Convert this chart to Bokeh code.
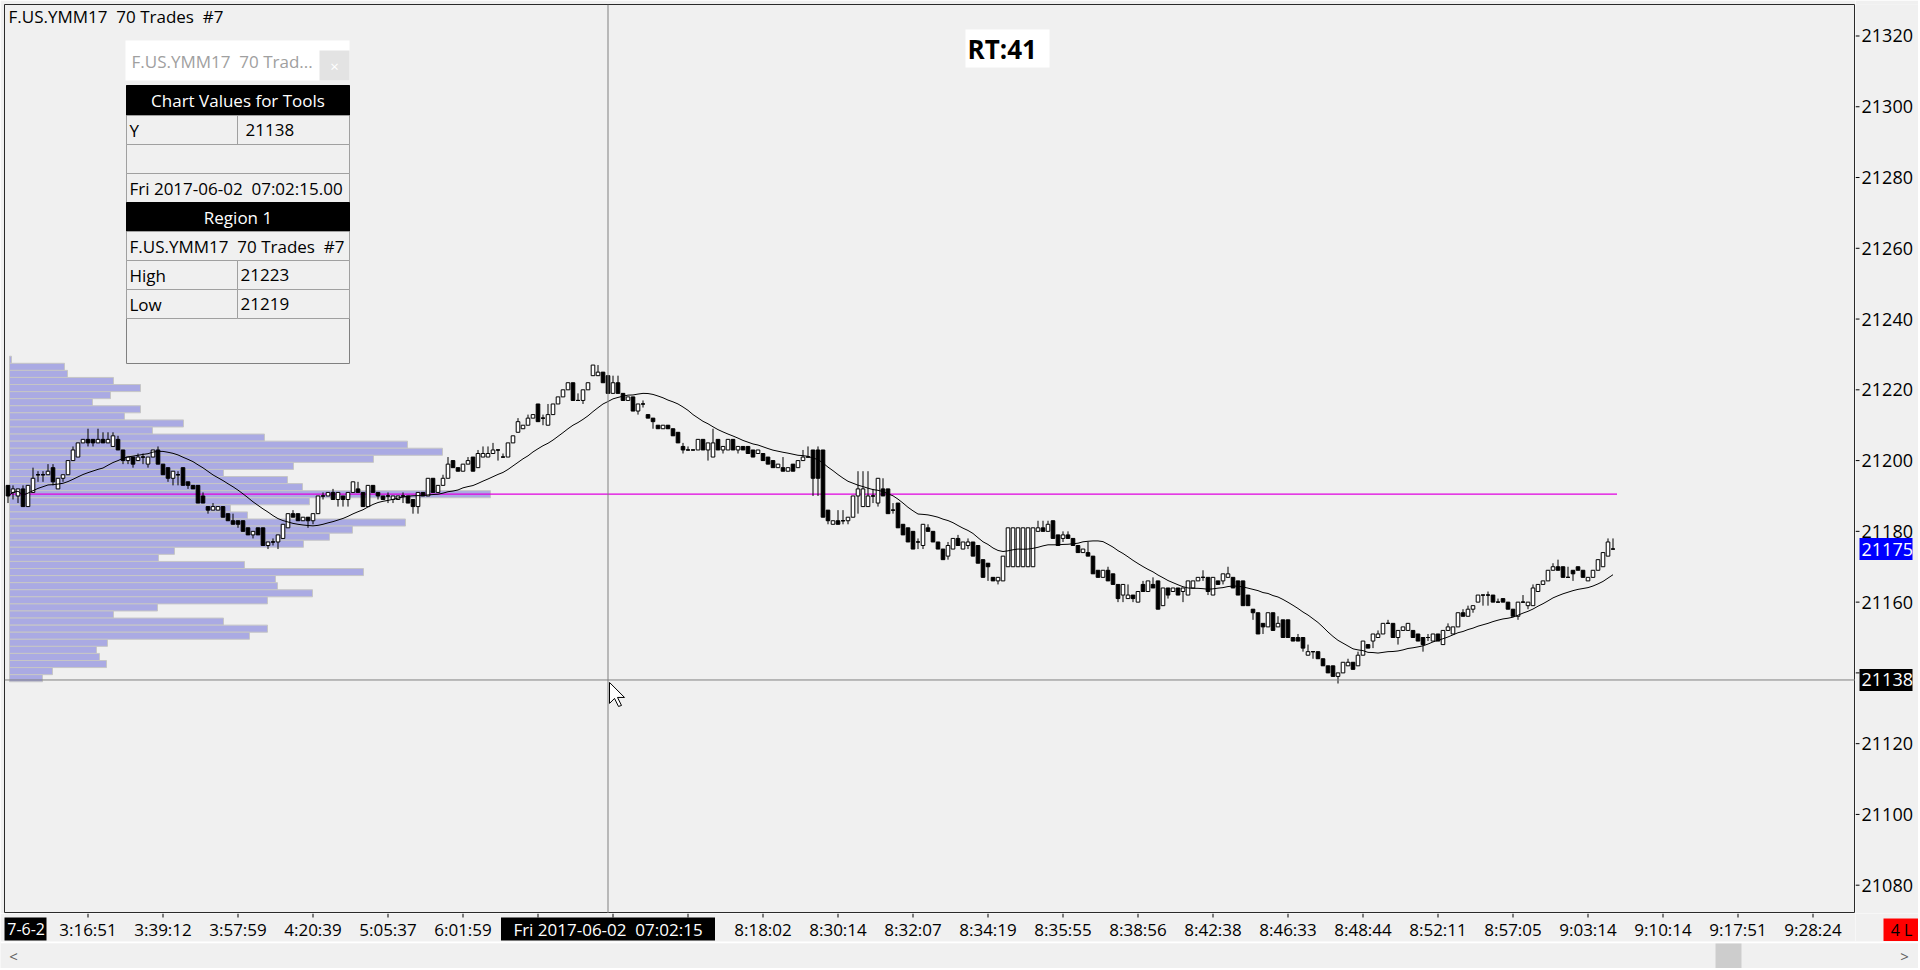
import pandas as pd
from bokeh.plotting import figure
from bokeh.layouts import column, row
from bokeh.models import (
    ColumnDataSource,
    Span,
    Label,
    BoxAnnotation,
    Range1d,
)
from bokeh.core.properties import value
from bokeh.embed import file_html
from bokeh.resources import INLINE

# F.US.YMM17, 70 trades per bar, bars 0..321
opens = [
    21193, 21191, 21190, 21192, 21187, 21191, 21196, 21196, 21196, 21198,
    21192, 21195, 21196, 21200, 21201, 21205, 21206, 21206, 21205, 21206,
    21205, 21204, 21206, 21203, 21200, 21201, 21200, 21201, 21199, 21201,
    21203, 21199, 21198, 21195, 21196, 21198, 21194, 21193, 21193, 21190,
    21187, 21186, 21186, 21187, 21185, 21183, 21183, 21183, 21181, 21179,
    21181, 21181, 21176, 21177, 21177, 21178, 21181, 21185, 21185, 21183,
    21184, 21183, 21185, 21190, 21190, 21191, 21189, 21190, 21189, 21191,
    21192, 21191, 21187, 21193, 21191, 21190, 21190, 21189, 21189, 21190,
    21190, 21189, 21187, 21191, 21190, 21195, 21191, 21193, 21195, 21200,
    21198, 21197, 21199, 21201, 21198, 21201, 21201, 21202, 21203, 21201,
    21201, 21205, 21208, 21209, 21210, 21212, 21216, 21212, 21210, 21213,
    21216, 21218, 21220, 21222, 21217, 21217, 21220, 21224, 21224, 21225,
    21224, 21219, 21222, 21219, 21217, 21218, 21214, 21216, 21213, 21212,
    21210, 21209, 21210, 21209, 21208, 21204, 21203, 21203, 21203, 21206,
    21203, 21201, 21206, 21203, 21203, 21206, 21203, 21204, 21204, 21203,
    21202, 21202, 21201, 21200, 21198, 21198, 21197, 21199, 21198, 21200,
    21201, 21203, 21203, 21203, 21186, 21182, 21183, 21183, 21183, 21184,
    21190, 21187, 21187, 21190, 21188, 21192, 21192, 21186, 21188, 21182,
    21181, 21180, 21177, 21176, 21181, 21180, 21177, 21175, 21173, 21175,
    21178, 21175, 21176, 21177, 21176, 21172, 21171, 21167, 21166, 21166,
    21170, 21170, 21170, 21170, 21170, 21170, 21180, 21181, 21180, 21183,
    21179, 21178, 21179, 21178, 21176, 21174, 21174, 21173, 21169, 21167,
    21169, 21168, 21165, 21162, 21161, 21162, 21160, 21165, 21163, 21165,
    21166, 21159, 21164, 21163, 21164, 21163, 21162, 21164, 21166, 21167,
    21167, 21162, 21166, 21166, 21167, 21167, 21166, 21166, 21162, 21158,
    21157, 21154, 21153, 21157, 21153, 21155, 21155, 21150, 21150, 21150,
    21145, 21146, 21146, 21144, 21142, 21142, 21139, 21140, 21142, 21143,
    21142, 21145, 21148, 21149, 21150, 21151, 21154, 21154, 21150, 21152,
    21152, 21152, 21151, 21150, 21150, 21149, 21151, 21148, 21152, 21151,
    21153, 21157, 21156, 21158, 21160, 21162, 21162, 21162, 21160, 21161,
    21160, 21158, 21156, 21160, 21159, 21159, 21163, 21165, 21166, 21169,
    21170, 21170, 21167, 21169, 21170, 21169, 21166, 21167, 21169, 21170,
    21173, 21175,
]
highs = [
    21193, 21193, 21192, 21193, 21193, 21198, 21197, 21197, 21199, 21199,
    21195, 21196, 21200, 21204, 21205, 21206, 21209, 21206, 21209, 21208,
    21208, 21208, 21207, 21203, 21201, 21201, 21202, 21202, 21201, 21203,
    21204, 21199, 21198, 21197, 21197, 21198, 21194, 21193, 21193, 21191,
    21187, 21188, 21187, 21187, 21185, 21185, 21183, 21183, 21181, 21180,
    21181, 21181, 21177, 21178, 21179, 21182, 21185, 21186, 21185, 21184,
    21184, 21185, 21190, 21191, 21191, 21192, 21191, 21190, 21191, 21194,
    21194, 21191, 21193, 21193, 21191, 21190, 21191, 21190, 21190, 21191,
    21190, 21189, 21191, 21191, 21195, 21195, 21193, 21196, 21201, 21200,
    21198, 21199, 21201, 21201, 21203, 21204, 21204, 21205, 21203, 21202,
    21205, 21207, 21212, 21210, 21213, 21213, 21216, 21213, 21216, 21216,
    21218, 21220, 21222, 21222, 21219, 21220, 21222, 21227, 21227, 21225,
    21224, 21224, 21224, 21219, 21218, 21218, 21216, 21217, 21213, 21212,
    21210, 21210, 21210, 21209, 21208, 21205, 21204, 21203, 21206, 21206,
    21205, 21209, 21206, 21204, 21206, 21206, 21204, 21204, 21204, 21203,
    21203, 21202, 21201, 21200, 21199, 21201, 21198, 21199, 21200, 21203,
    21204, 21203, 21204, 21203, 21186, 21183, 21186, 21186, 21184, 21190,
    21197, 21197, 21197, 21192, 21195, 21195, 21192, 21188, 21188, 21182,
    21181, 21180, 21178, 21182, 21182, 21180, 21177, 21175, 21177, 21178,
    21179, 21177, 21178, 21177, 21176, 21172, 21171, 21167, 21167, 21173,
    21181, 21181, 21181, 21181, 21181, 21181, 21183, 21183, 21183, 21183,
    21179, 21180, 21180, 21178, 21176, 21175, 21177, 21173, 21169, 21169,
    21170, 21168, 21165, 21165, 21165, 21162, 21163, 21166, 21166, 21167,
    21166, 21164, 21164, 21164, 21164, 21164, 21166, 21166, 21167, 21169,
    21167, 21167, 21166, 21168, 21170, 21167, 21166, 21166, 21162, 21158,
    21157, 21154, 21157, 21157, 21156, 21155, 21155, 21150, 21151, 21150,
    21148, 21146, 21146, 21144, 21142, 21142, 21140, 21143, 21144, 21143,
    21146, 21149, 21148, 21151, 21152, 21154, 21155, 21154, 21152, 21153,
    21154, 21152, 21151, 21150, 21151, 21151, 21151, 21152, 21154, 21153,
    21157, 21158, 21159, 21159, 21162, 21162, 21163, 21162, 21161, 21161,
    21160, 21158, 21160, 21162, 21160, 21165, 21165, 21166, 21169, 21171,
    21172, 21170, 21170, 21169, 21170, 21169, 21167, 21169, 21172, 21174,
    21178, 21178,
]
lows = [
    21188, 21189, 21188, 21187, 21187, 21191, 21194, 21194, 21196, 21193,
    21192, 21194, 21196, 21200, 21201, 21205, 21204, 21204, 21205, 21205,
    21205, 21204, 21203, 21199, 21199, 21198, 21200, 21199, 21198, 21201,
    21199, 21196, 21194, 21193, 21193, 21193, 21192, 21192, 21188, 21188,
    21185, 21186, 21186, 21184, 21183, 21182, 21181, 21180, 21179, 21178,
    21179, 21176, 21175, 21176, 21175, 21178, 21181, 21184, 21183, 21183,
    21181, 21182, 21185, 21189, 21190, 21189, 21187, 21187, 21187, 21191,
    21191, 21187, 21187, 21191, 21189, 21189, 21188, 21188, 21189, 21188,
    21188, 21185, 21185, 21190, 21190, 21191, 21191, 21193, 21195, 21198,
    21197, 21197, 21199, 21197, 21198, 21201, 21201, 21202, 21200, 21201,
    21201, 21205, 21208, 21209, 21210, 21212, 21211, 21210, 21210, 21213,
    21216, 21218, 21220, 21217, 21217, 21216, 21220, 21224, 21224, 21222,
    21219, 21219, 21219, 21217, 21217, 21214, 21213, 21215, 21212, 21209,
    21209, 21209, 21209, 21207, 21205, 21202, 21203, 21203, 21203, 21203,
    21200, 21201, 21203, 21202, 21203, 21203, 21202, 21203, 21202, 21201,
    21202, 21200, 21199, 21198, 21198, 21197, 21197, 21197, 21198, 21200,
    21201, 21190, 21190, 21184, 21182, 21182, 21182, 21182, 21182, 21184,
    21185, 21187, 21187, 21188, 21187, 21190, 21185, 21185, 21181, 21179,
    21177, 21175, 21175, 21175, 21180, 21177, 21175, 21172, 21172, 21175,
    21176, 21175, 21175, 21173, 21171, 21167, 21166, 21166, 21165, 21166,
    21170, 21170, 21170, 21170, 21170, 21170, 21180, 21180, 21180, 21178,
    21176, 21177, 21178, 21176, 21174, 21174, 21173, 21168, 21167, 21167,
    21166, 21165, 21160, 21160, 21161, 21160, 21160, 21163, 21163, 21164,
    21158, 21159, 21161, 21163, 21162, 21160, 21162, 21164, 21166, 21166,
    21162, 21162, 21165, 21165, 21167, 21164, 21162, 21159, 21159, 21155,
    21151, 21151, 21153, 21152, 21153, 21150, 21150, 21149, 21149, 21146,
    21145, 21144, 21144, 21142, 21140, 21139, 21137, 21140, 21142, 21141,
    21142, 21145, 21147, 21147, 21150, 21151, 21154, 21150, 21148, 21152,
    21152, 21150, 21149, 21146, 21149, 21149, 21149, 21148, 21152, 21151,
    21153, 21156, 21156, 21157, 21160, 21159, 21159, 21160, 21160, 21160,
    21158, 21156, 21155, 21160, 21158, 21159, 21163, 21165, 21166, 21169,
    21169, 21167, 21167, 21166, 21169, 21167, 21166, 21167, 21169, 21170,
    21173, 21175,
]
closes = [
    21190, 21192, 21192, 21187, 21193, 21195, 21196, 21196, 21197, 21194,
    21195, 21196, 21200, 21203, 21205, 21206, 21205, 21205, 21206, 21205,
    21206, 21207, 21203, 21200, 21201, 21199, 21201, 21201, 21201, 21203,
    21199, 21196, 21195, 21197, 21196, 21193, 21193, 21192, 21188, 21188,
    21186, 21187, 21187, 21184, 21183, 21182, 21182, 21180, 21179, 21180,
    21179, 21176, 21177, 21177, 21179, 21182, 21185, 21184, 21183, 21184,
    21183, 21185, 21190, 21190, 21191, 21189, 21191, 21189, 21191, 21194,
    21191, 21187, 21193, 21191, 21190, 21189, 21190, 21190, 21190, 21190,
    21188, 21187, 21191, 21190, 21195, 21191, 21193, 21195, 21199, 21198,
    21197, 21199, 21200, 21197, 21202, 21202, 21202, 21203, 21203, 21201,
    21205, 21207, 21211, 21210, 21212, 21213, 21211, 21212, 21213, 21216,
    21218, 21220, 21222, 21217, 21217, 21220, 21222, 21227, 21225, 21222,
    21219, 21222, 21219, 21217, 21218, 21214, 21216, 21216, 21212, 21211,
    21209, 21210, 21209, 21207, 21205, 21203, 21203, 21203, 21206, 21203,
    21205, 21205, 21203, 21204, 21206, 21203, 21204, 21203, 21202, 21201,
    21203, 21200, 21199, 21198, 21199, 21197, 21198, 21197, 21200, 21201,
    21201, 21195, 21195, 21184, 21183, 21183, 21182, 21183, 21184, 21190,
    21192, 21192, 21190, 21190, 21195, 21190, 21185, 21186, 21181, 21179,
    21177, 21175, 21177, 21182, 21180, 21177, 21175, 21172, 21176, 21178,
    21176, 21177, 21177, 21173, 21171, 21167, 21170, 21166, 21167, 21173,
    21181, 21181, 21181, 21181, 21181, 21181, 21181, 21180, 21182, 21178,
    21176, 21179, 21178, 21176, 21174, 21175, 21173, 21168, 21167, 21169,
    21166, 21165, 21161, 21165, 21162, 21161, 21163, 21163, 21166, 21164,
    21158, 21164, 21162, 21164, 21162, 21164, 21166, 21166, 21167, 21167,
    21163, 21167, 21165, 21168, 21168, 21164, 21162, 21159, 21159, 21157,
    21151, 21153, 21157, 21152, 21154, 21150, 21150, 21149, 21149, 21147,
    21146, 21146, 21144, 21142, 21140, 21139, 21140, 21143, 21143, 21141,
    21145, 21149, 21147, 21151, 21151, 21154, 21154, 21150, 21152, 21153,
    21154, 21150, 21149, 21148, 21150, 21151, 21149, 21152, 21153, 21153,
    21157, 21156, 21158, 21159, 21162, 21162, 21162, 21160, 21160, 21160,
    21158, 21156, 21160, 21160, 21160, 21164, 21165, 21166, 21169, 21170,
    21169, 21167, 21167, 21168, 21169, 21167, 21167, 21169, 21172, 21174,
    21177, 21175,
]

# volume profile of "Region 1": 2-point rows, relative volume per row
profile_price = [
    21228.5, 21226.5, 21224.5, 21222.5, 21220.5, 21218.5, 21216.5, 21214.5,
    21212.5, 21210.5, 21208.5, 21206.5, 21204.5, 21202.5, 21200.5, 21198.5,
    21196.5, 21194.5, 21192.5, 21190.5, 21188.5, 21186.5, 21184.5, 21182.5,
    21180.5, 21178.5, 21176.5, 21174.5, 21172.5, 21170.5, 21168.5, 21166.5,
    21164.5, 21162.5, 21160.5, 21158.5, 21156.5, 21154.5, 21152.5, 21150.5,
    21148.5, 21146.5, 21144.5, 21142.5, 21140.5, 21138.5,
]
profile_volume = [
    2, 55, 58, 104, 131, 101, 83, 131, 115, 174, 143, 255, 398, 433, 364, 284,
    214, 278, 293, 481, 300, 221, 238, 396, 343, 320, 294, 165, 149, 235, 354,
    266, 268, 303, 258, 148, 104, 214, 258, 240, 98, 87, 90, 97, 43, 33,
]

price_ticks = [21080, 21100, 21120, 21140, 21160, 21180, 21200, 21220, 21240, 21260, 21280, 21300, 21320]
# 21140 is hidden behind the cursor price box
price_labels = ["21080", "21100", "21120", "", "21160", "21180", "21200", "21220", "21240",
                "21260", "21280", "21300", "21320"]
tick_bars = [16, 31, 46, 61, 76, 91, 106, 121, 136, 151, 166, 181, 196, 211, 226, 241, 256, 271, 286, 301, 316, 331, 346, 361]
tick_times = [
    "3:16:51", "3:39:12", "3:57:59", "4:20:39", "5:05:37", "6:01:59", "", "", "",
    "8:18:02", "8:30:14", "8:32:07", "8:34:19", "8:35:55", "8:38:56", "8:42:38",
    "8:46:33", "8:48:44", "8:52:11", "8:57:05", "9:03:14", "9:10:14", "9:17:51", "9:28:24",
]

cursor_bar = 120
cursor_price = 21138
cursor_time = "Fri 2017-06-02\u00a0 07:02:15"
last_price = closes[-1]

BG = "#F0F0F0"
FONT = "Open Sans"
SP = "\u00a0 "  # keeps the double gap of the original captions
EDGE = 4                       # window border left of / above the price pane
FRAME_W, FRAME_H = 1851, 909   # price pane
AXIS_W, AXIS_H = 63, 28        # price scale column / time scale row
SCROLL_H = 27

bars = list(range(len(closes)))
ma = pd.Series(closes).rolling(20, min_periods=1).mean().tolist()

candles = ColumnDataSource(dict(
    bar=bars, open=opens, high=highs, low=lows, close=closes,
    top=[max(o, c) for o, c in zip(opens, closes)],
    bottom=[min(o, c) for o, c in zip(opens, closes)],
    fill=["white" if c >= o else "black" for o, c in zip(opens, closes)],
))
doji = [i for i in bars if opens[i] == closes[i]]

profile = ColumnDataSource(dict(
    price=profile_price,
    right=[0.3 + v / 5 for v in profile_volume],
))
poc = profile_price[profile_volume.index(max(profile_volume))]


def pane(left=0, top=0, **kw):
    f = figure(tools="", toolbar_location=None, output_backend="svg",
               x_axis_location=None, y_axis_location=None, **kw)
    f.min_border_left = left
    f.min_border_top = top
    f.min_border_right = 0
    f.min_border_bottom = 0
    f.background_fill_color = BG
    f.border_fill_color = BG
    f.grid.visible = False
    f.outline_line_color = None
    return f


# ---- price pane
p = pane(EDGE, EDGE, frame_width=FRAME_W, frame_height=FRAME_H,
         x_range=Range1d(-0.7, 369.5), y_range=Range1d(21072, 21328.9))
p.outline_line_color = "#2A2A2A"

p.hbar(y="price", left=0.3, right="right", height=2, source=profile,
       fill_color="#AAAAE3", line_color="#C6C6C6", line_width=1)
p.segment(x0=0.3, y0=poc, x1=bars[-1] + 0.8, y1=poc, line_color="#E000E0", line_width=1.3)

p.segment(x0="bar", y0="low", x1="bar", y1="high", source=candles, line_color="black", line_width=1)
p.vbar(x="bar", top="top", bottom="bottom", width=0.72, fill_color="fill",
       line_color="black", line_width=1, source=candles)
p.segment(x0=[i - 0.36 for i in doji], y0=[opens[i] for i in doji],
          x1=[i + 0.36 for i in doji], y1=[opens[i] for i in doji],
          line_color="black", line_width=1)
p.line(bars, ma, line_color="black", line_width=1)

p.add_layout(Span(location=cursor_bar, dimension="height", line_color="#808080", line_width=1))
p.add_layout(Span(location=cursor_price, dimension="width", line_color="#808080", line_width=1))

# mouse pointer at the crosshair (shape in pixels: 5 px per bar, 3.538 px per point)
arrow_dx = [0, 0, 5, 9, 12, 8, 15]
arrow_dy = [0, 21, 16, 24, 23, 15, 15]
p.patch([cursor_bar + 0.3 + d / 5 for d in arrow_dx],
        [cursor_price - 0.7 - d / 3.538 for d in arrow_dy],
        fill_color="white", line_color="black", line_width=1)


def fx(px):
    return px - EDGE


def fy(py):
    return FRAME_H - (py - EDGE)


def box(l, t, r, b, fill, line="#A0A0A0"):
    p.add_layout(BoxAnnotation(
        left=fx(l), right=fx(r), top=fy(t), bottom=fy(b),
        left_units="screen", right_units="screen", top_units="screen", bottom_units="screen",
        fill_color=fill, fill_alpha=1, line_color=line, line_width=1, line_alpha=1,
    ))


def text(px, py, s, size="17px", color="black", align="left", style="normal"):
    p.add_layout(Label(
        x=fx(px), y=fy(py), x_units="screen", y_units="screen", text=s,
        text_font=FONT, text_font_size=size, text_color=color,
        text_align=align, text_baseline="middle", text_font_style=style,
    ))


text(8, 16, "F.US.YMM17" + SP + "70 Trades" + SP + "#7")

box(965, 29, 1049, 67, "white", None)
text(967, 48.5, "RT:41", size="26px", style="bold")

# chart values window
box(125, 40, 349, 80, "white", None)
text(131, 61, "F.US.YMM17" + SP + "70 Trad...", color="#A0A0A0")
box(319, 50, 349, 80, "#E3E3E3", None)
text(334, 65, "\u00d7", size="15px", color="white", align="center")
box(126, 85, 349, 363, BG, "#808080")
box(126, 85, 349, 115, "black", "black")
text(237.5, 100, "Chart Values for Tools", color="white", align="center")
box(126, 115, 237, 144, BG)
box(237, 115, 349, 144, BG)
text(129, 129.5, "Y")
text(245, 129.5, "21138")
box(126, 144, 349, 173, BG)
box(126, 173, 349, 202, BG)
text(129, 187.5, "Fri 2017-06-02" + SP + "07:02:15.00")
box(126, 202, 349, 231, "black", "black")
text(237.5, 216.5, "Region 1", color="white", align="center")
box(126, 231, 349, 260, BG)
text(129, 245.5, "F.US.YMM17" + SP + "70 Trades" + SP + "#7")
box(126, 260, 237, 289, BG)
box(237, 260, 349, 289, BG)
text(129, 274.5, "High")
text(240, 274.5, "21223")
box(126, 289, 237, 318, BG)
box(237, 289, 349, 318, BG)
text(129, 303.5, "Low")
text(240, 303.5, "21219")

# ---- price scale on the right, shares the price range
ys = pane(0, EDGE, frame_width=AXIS_W, frame_height=FRAME_H, x_range=Range1d(0, AXIS_W), y_range=p.y_range)
ys.segment(x0=0, y0=price_ticks, x1=4, y1=price_ticks, line_color="black", line_width=1)
ys.text(x=6, y=price_ticks, text=price_labels, text_font=value(FONT),
        text_font_size="18px", text_color="black", text_align="left", text_baseline="middle")
ys.rect(x=30.5, y=[last_price, cursor_price], width=53, height=22, height_units="screen",
        fill_color=["#0000FF", "black"], line_color=None)
ys.text(x=6, y=[last_price, cursor_price], text=[str(last_price), str(cursor_price)],
        text_font=value(FONT), text_font_size="18px", text_color="white",
        text_align="left", text_baseline="middle")

# ---- time scale below, shares the bar range
xs = pane(EDGE, 0, frame_width=FRAME_W, frame_height=AXIS_H, x_range=p.x_range, y_range=Range1d(0, AXIS_H))
xs.segment(x0=tick_bars, y0=AXIS_H, x1=tick_bars, y1=AXIS_H - 4, line_color="black", line_width=1)
shown = [(b, t) for b, t in zip(tick_bars, tick_times) if t]
xs.text(x=[b for b, _ in shown], y=12.5, text=[t for _, t in shown], text_font=value(FONT),
        text_font_size="17px", text_color="black", text_align="center", text_baseline="middle")
xs.rect(x=cursor_bar, y=12.5, width=214, width_units="screen", height=23,
        fill_color="black", line_color=None)
xs.text(x=cursor_bar, y=12.5, text=[cursor_time], text_font=value(FONT), text_font_size="17px",
        text_color="white", text_align="center", text_baseline="middle")
xs.quad(left=-1, right=7.7, bottom=1, top=24, fill_color="black", line_color=None)
xs.text(x=7.4, y=12.5, text=["7-6-2"], text_font=value(FONT), text_font_size="16px",
        text_color="white", text_align="right", text_baseline="middle")

corner = pane(0, 0, frame_width=AXIS_W, frame_height=AXIS_H, x_range=Range1d(0, AXIS_W), y_range=Range1d(0, AXIS_H))
corner.quad(left=28, right=AXIS_W, bottom=0, top=23, fill_color="#FF0000", line_color=None)
corner.text(x=46, y=11.5, text=["4 L"], text_font=value(FONT), text_font_size="16px",
            text_color="black", text_align="center", text_baseline="middle")

# ---- horizontal scroll bar
W = EDGE + FRAME_W + AXIS_W
sb = pane(0, 0, frame_width=W, frame_height=SCROLL_H, x_range=Range1d(0, W), y_range=Range1d(0, SCROLL_H))
sb.segment(x0=0, y0=SCROLL_H - 1, x1=W, y1=SCROLL_H - 1, line_color="white", line_width=1.5)
sb.quad(left=1715, right=1741, bottom=0, top=SCROLL_H - 2, fill_color="#CDCDCD", line_color=None)
sb.text(x=[13, 1904], y=[12.5, 12.5], text=["<", ">"], text_font=value(FONT), text_font_size="15px",
        text_color="#606060", text_align="center", text_baseline="middle")

layout = column(
    row(p, ys, spacing=0),
    row(xs, corner, spacing=0),
    sb,
    spacing=0,
)
open("out.html", "w").write(file_html(layout, INLINE))
